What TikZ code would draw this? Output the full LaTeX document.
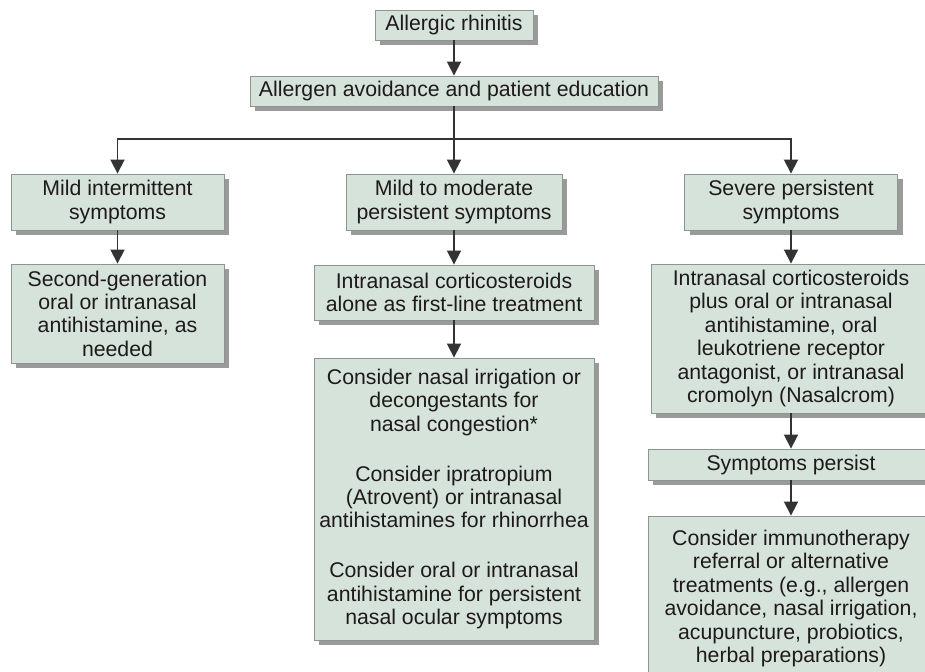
\documentclass[tikz,border=0pt]{standalone}
\usepackage{fontspec}
\setmainfont{Liberation Sans}
\usepackage{tikz}
\usetikzlibrary{arrows.meta, positioning, shadows}

\begin{document}
\begin{tikzpicture}[font=\fontsize{12.1}{13.3}\selectfont, >={Triangle[width=8pt,length=8pt]}]
  \definecolor{boxfill}{HTML}{D6E3DA}
  \definecolor{boxline}{HTML}{8C9690}
  \definecolor{shade}{HTML}{9A9A9A}
  \definecolor{ink}{HTML}{1E1A1B}
  \definecolor{wire}{HTML}{333333}

  \tikzset{
    carebox/.style={draw=boxline, fill=boxfill, line width=0.5pt, align=center, inner sep=2pt, text=ink,
      drop shadow={shadow xshift=0.1cm, shadow yshift=-0.1cm, fill=shade, opacity=1}},
    link/.style={draw=wire, line width=1pt}
  }

  \useasboundingbox (0,0) rectangle (18.5,-13.42);

  % Define positions
  \node (rhin) [carebox, minimum width=3.16cm, minimum height=0.60cm] at (9.08,-0.50) {Allergic rhinitis};
  \node (avoid) [carebox, minimum width=8.16cm, minimum height=0.60cm] at (9.08,-1.82) {Allergen avoidance and patient education};

  \node (mild) [carebox, minimum width=4.26cm, minimum height=1.12cm] at (2.35,-4.04) {Mild intermittent\\symptoms};
  \node (moder) [carebox, minimum width=4.32cm, minimum height=1.12cm] at (9.08,-4.04) {Mild to moderate\\persistent symptoms};
  \node (severe) [carebox, minimum width=4.26cm, minimum height=1.12cm] at (15.82,-4.04) {Severe persistent\\symptoms};

  \node (second) [carebox, minimum width=4.26cm, minimum height=1.98cm] at (2.35,-6.27)
    {Second-generation\\oral or intranasal\\antihistamine, as\\needed};
  \node (alone) [carebox, minimum width=5.60cm, minimum height=1.10cm] at (9.08,-5.85)
    {Intranasal corticosteroids\\alone as first-line treatment};
  \node (consider) [carebox, minimum width=5.60cm, minimum height=5.64cm] at (9.08,-9.98)
    {Consider nasal irrigation or\\decongestants for\\nasal congestion*\\[0.53cm]
     Consider ipratropium\\(Atrovent) or intranasal\\antihistamines for rhinorrhea\\[0.53cm]
     Consider oral or intranasal\\antihistamine for persistent\\nasal ocular symptoms};

  \node (plus) [carebox, minimum width=5.60cm, minimum height=2.98cm] at (15.82,-6.77)
    {Intranasal corticosteroids\\plus oral or intranasal\\antihistamine, oral\\leukotriene receptor\\antagonist, or intranasal\\cromolyn (Nasalcrom)};
  \node (persist) [carebox, minimum width=5.72cm, minimum height=0.62cm] at (15.82,-9.29) {Symptoms persist};
  \node (immuno) [carebox, minimum width=5.72cm, minimum height=3.30cm] at (15.82,-11.97)
    {Consider immunotherapy\\referral or alternative\\treatments (e.g., allergen\\avoidance, nasal irrigation,\\acupuncture, probiotics,\\herbal preparations)};

  % Arrows
  \coordinate (fork) at (9.08,-2.78);
  \draw[->, link] (rhin) -- (avoid);
  \draw[->, link] (avoid) -- (moder);
  \draw[->, link] (fork) -| (mild);
  \draw[->, link] (fork) -| (severe);
  \draw[->, link] (mild) -- (second);
  \draw[->, link] (moder) -- (alone);
  \draw[->, link] (alone) -- (consider);
  \draw[->, link] (severe) -- (plus);
  \draw[->, link] (plus) -- (persist);
  \draw[->, link] (persist) -- (immuno);
\end{tikzpicture}
\end{document}
